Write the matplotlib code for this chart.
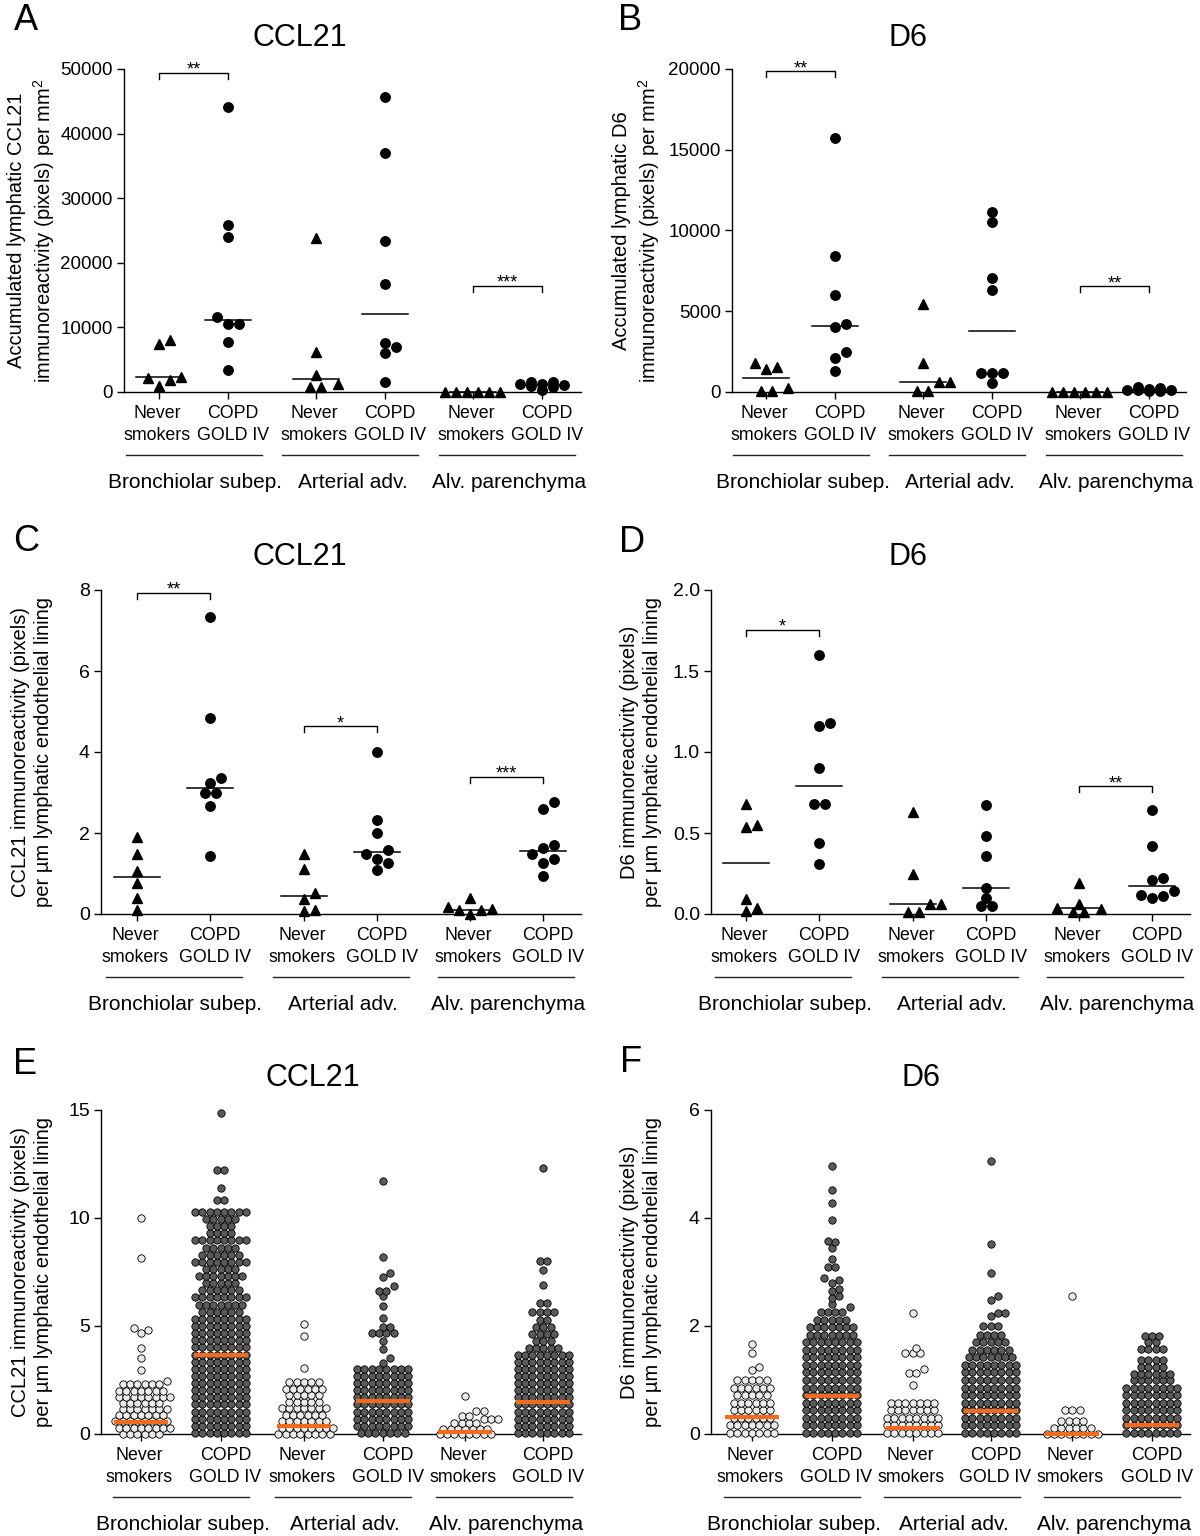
import numpy as np
import matplotlib
matplotlib.use('Agg')
import matplotlib.pyplot as plt
from matplotlib.transforms import blended_transform_factory, ScaledTranslation

plt.rcParams['font.family'] = ['Liberation Sans', 'DejaVu Sans']
plt.rcParams['mathtext.fontset'] = 'custom'
plt.rcParams['mathtext.rm'] = 'Liberation Sans'
plt.rcParams['mathtext.it'] = 'Liberation Sans:italic'

W, H = 1200, 1536
fig = plt.figure(figsize=(12, 15.36), dpi=100)

# ---------------- data ----------------
tick_labels = [('Never', 'smokers'), ('COPD', 'GOLD IV')] * 3
regions = ['Bronchiolar subep.', 'Arterial adv.', 'Alv. parenchyma']

# Panel A: accumulated CCL21 per mm2
A_bronch_never = [8000, 7500, 2200, 900, 1900, 2300]
A_bronch_copd = [44100, 25900, 24000, 11600, 10600, 10500, 7700, 3400]
A_art_never = [23800, 6200, 2700, 1200, 800, 800]
A_art_copd = [45600, 37000, 23300, 16700, 7600, 6900, 6000, 1600]
A_alv_never = [60, 50, 40, 50, 60, 40]
A_alv_copd = [1600, 1500, 1300, 1200, 1100, 900, 700, 300]

# Panel B: accumulated D6 per mm2
B_bronch_never = [1550, 1440, 1790, 250, 60, 60]
B_bronch_copd = [15750, 8400, 6000, 4200, 4000, 2500, 2100, 1300]
B_art_never = [5450, 1800, 600, 600, 50, 50]
B_art_copd = [11150, 10500, 7050, 6300, 1200, 1200, 1200, 550]
B_alv_never = [20, 20, 20, 20, 20, 20]
B_alv_copd = [300, 250, 200, 150, 120, 100, 80, 60]

# Panel C: CCL21 per um lining (patients)
C_bronch_never = [1.91, 1.47, 1.05, 0.76, 0.39, 0.10]
C_bronch_copd = [7.33, 4.83, 3.36, 3.24, 3.0, 3.0, 2.67, 1.42]
C_art_never = [1.47, 1.11, 0.53, 0.36, 0.10, 0.08]
C_art_copd = [4.0, 2.32, 1.99, 1.58, 1.48, 1.37, 1.25, 1.09]
C_alv_never = [0.40, 0.17, 0.12, 0.10, 0.09, 0.0]
C_alv_copd = [2.77, 2.6, 1.70, 1.62, 1.47, 1.37, 1.25, 0.95]

# Panel D: D6 per um lining (patients)
D_bronch_never = [0.68, 0.55, 0.54, 0.09, 0.02, 0.04]
D_bronch_copd = [1.6, 1.18, 1.16, 0.9, 0.68, 0.68, 0.44, 0.31]
D_art_never = [0.63, 0.25, 0.06, 0.06, 0.01, 0.01]
D_art_copd = [0.67, 0.48, 0.36, 0.16, 0.10, 0.05, 0.05]
D_alv_never = [0.19, 0.06, 0.04, 0.03, 0.01, 0.01]
D_alv_copd = [0.64, 0.42, 0.22, 0.21, 0.14, 0.12, 0.11, 0.10]

# Panel E: CCL21 per um lining (individual vessels): row levels and point counts per row
E_bronch_never_lv = [0.02, 0.3, 0.6, 0.9, 1.15, 1.45, 1.7, 2.0, 2.3, 2.47, 2.98, 3.5, 4.0, 4.68, 4.8, 4.9, 8.13, 10.0]
E_bronch_never_ct = [6, 8, 8, 7, 7, 6, 8, 7, 6, 1, 1, 1, 1, 1, 1, 1, 1, 1]
E_bronch_copd_lv = [0.05, 0.38, 0.71, 1.04, 1.37, 1.70, 2.03, 2.36, 2.69, 3.02, 3.35, 3.68, 4.01, 4.34, 4.67, 5.00,
                    5.33, 5.66, 5.99, 6.32, 6.65, 6.98, 7.31, 7.64, 7.97, 8.30, 8.63, 8.96, 9.29, 9.62, 9.95, 10.3,
                    10.85, 11.39, 12.22, 14.86]
E_bronch_copd_ct = [8, 8, 8, 8, 8, 8, 8, 8, 8, 8, 8, 8, 8, 8, 8, 8,
                    8, 6, 7, 8, 6, 5, 7, 5, 8, 6, 5, 8, 4, 4, 5, 8,
                    2, 1, 2, 1]
E_art_never_lv = [0.02, 0.3, 0.6, 0.9, 1.2, 1.5, 1.8, 2.1, 2.4, 3.06, 4.52, 5.09]
E_art_never_ct = [8, 8, 7, 6, 7, 5, 5, 6, 5, 1, 1, 1]
E_art_copd_lv = [0.05, 0.38, 0.71, 1.04, 1.37, 1.70, 2.03, 2.36, 2.69, 3.02, 3.3, 3.5, 3.94, 4.29, 4.68, 4.94,
                 5.35, 5.94, 6.4, 6.64, 6.87, 7.25, 7.44, 8.21, 11.73]
E_art_copd_ct = [7, 8, 8, 8, 8, 8, 8, 8, 8, 8, 1, 1, 1, 1, 4, 2,
                 1, 1, 1, 2, 1, 1, 1, 1, 1]
E_alv_never_lv = [0.02, 0.25, 0.5, 0.7, 0.85, 1.05, 1.77]
E_alv_never_ct = [8, 7, 4, 3, 2, 2, 1]
E_alv_copd_lv = [0.05, 0.38, 0.71, 1.04, 1.37, 1.70, 2.03, 2.36, 2.69, 3.02, 3.35, 3.68, 4.0, 4.3, 4.63, 4.95,
                 5.3, 5.63, 6.05, 6.9, 7.6, 7.99, 12.3]
E_alv_copd_ct = [8, 8, 8, 8, 8, 8, 8, 8, 8, 8, 8, 8, 5, 3, 4, 3,
                 2, 4, 2, 1, 1, 2, 1]
E_medians = [0.54, 3.65, 0.39, 1.54, 0.11, 1.47]

# Panel F: D6 per um lining (individual vessels)
F_bronch_never_lv = [0.02, 0.16, 0.3, 0.44, 0.58, 0.72, 0.86, 1.0, 1.19, 1.24, 1.5, 1.67]
F_bronch_never_ct = [7, 7, 6, 6, 6, 5, 6, 5, 1, 1, 1, 1]
F_bronch_copd_lv = [0.02, 0.16, 0.30, 0.44, 0.58, 0.72, 0.86, 1.00, 1.14, 1.28, 1.42, 1.56, 1.70, 1.84, 1.98, 2.12,
                    2.26, 2.35, 2.4, 2.52, 2.55, 2.65, 2.68, 2.8, 2.85, 2.88, 3.1, 3.25, 3.45, 3.55, 3.58, 3.97,
                    4.27, 4.52, 4.97]
F_bronch_copd_ct = [8, 8, 8, 8, 8, 8, 8, 8, 8, 8, 8, 8, 8, 7, 7, 5,
                    4, 1, 1, 1, 1, 1, 1, 1, 1, 1, 2, 1, 1, 1, 1, 1,
                    1, 1, 1]
F_art_never_lv = [0.02, 0.16, 0.30, 0.44, 0.58, 0.9, 1.13, 1.2, 1.5, 1.6, 2.25]
F_art_never_ct = [8, 8, 8, 7, 7, 1, 2, 1, 3, 1, 1]
F_art_copd_lv = [0.02, 0.16, 0.30, 0.44, 0.58, 0.72, 0.86, 1.00, 1.14, 1.28, 1.42, 1.56, 1.70, 1.84, 2.0, 2.18,
                 2.25, 2.48, 2.56, 2.98, 3.52, 5.06]
F_art_copd_ct = [8, 8, 8, 8, 8, 8, 8, 8, 8, 8, 7, 6, 5, 4, 3, 1,
                 2, 1, 1, 1, 1, 1]
F_alv_never_lv = [0.0, 0.12, 0.25, 0.44, 2.55]
F_alv_never_ct = [8, 6, 4, 3, 1]
F_alv_copd_lv = [0.02, 0.16, 0.30, 0.44, 0.58, 0.72, 0.86, 1.0, 1.12, 1.25, 1.37, 1.57, 1.7, 1.81]
F_alv_copd_ct = [8, 8, 8, 8, 8, 8, 8, 6, 6, 4, 4, 4, 2, 3]
F_medians = [0.31, 0.70, 0.12, 0.42, 0.0, 0.17]

# ---------------- helpers ----------------
ORANGE = '#f26a1e'


def make_ax(left, right, top, bottom):
    return fig.add_axes([left / W, 1 - bottom / H, (right - left) / W, (bottom - top) / H])


def px_offset(dx_px, dy_px):
    return ScaledTranslation(dx_px / 100.0, dy_px / 100.0, fig.dpi_scale_trans)


def swarm(ax, xc, vals, diam, rowgap, step, maxk, tol):
    """Place values as centred rows (equal values) shifted sideways to avoid overlaps."""
    vals = np.asarray(vals, float)
    sx = ax.transData.transform([[1, 0]])[0, 0] - ax.transData.transform([[0, 0]])[0, 0]
    levels, counts = np.unique(vals, return_counts=True)
    cands = [0.0]
    for k in range(1, maxk + 1):
        cands += [k * step, -k * step]
    ppx, ppy = np.zeros(0), np.zeros(0)
    out_x, out_y = [], []
    for lv, n in zip(levels, counts):
        py = ax.transData.transform([[xc, lv]])[0, 1]
        base = (np.arange(n) - (n - 1) / 2.0) * rowgap
        near = np.abs(ppy - py) < diam
        qx, qy = ppx[near], ppy[near]
        best, bestc, bestd = None, 0.0, -1.0
        for c in cands:
            xs = base + c
            if len(qx) == 0:
                dmin = np.inf
            else:
                dmin = np.min(np.hypot(xs[:, None] - qx[None, :], py - qy[None, :]))
            if dmin >= diam * tol:
                best = c
                break
            if dmin > bestd + 1e-9:
                bestd, bestc = dmin, c
        if best is None:
            best = bestc
        xs = base + best
        ppx = np.concatenate([ppx, xs])
        ppy = np.concatenate([ppy, np.full(n, py)])
        out_x += list(xc + xs / sx)
        out_y += [lv] * n
    return np.array(out_x), np.array(out_y)


def setup_axis(ax, L, R, T0, S, pos, ymax, yticks, yfmt, yfs, title, tx, ty, letter, lx, ly,
               ylabel, ylx):
    ax.set_xlim((L - T0) / S, (R - T0) / S)
    ax.set_ylim(0, ymax)
    for s in ['top', 'right']:
        ax.spines[s].set_visible(False)
    for s in ['left', 'bottom']:
        ax.spines[s].set_linewidth(1.0)
    ax.set_xticks(pos)
    ax.set_xticklabels([''] * len(pos))
    ax.set_yticks(yticks)
    ax.set_yticklabels([yfmt(v) for v in yticks], fontsize=yfs)
    ax.tick_params(axis='both', length=5, width=1.0, direction='out', pad=3)
    tr = blended_transform_factory(ax.transData, ax.transAxes)
    for i, p in enumerate(pos):
        l1, l2 = tick_labels[i]
        dx = -2 if i % 2 == 0 else 5
        ax.text(p, 0, l1, transform=tr + px_offset(dx, -26), fontsize=12.8, ha='center',
                va='baseline')
        ax.text(p, 0, l2, transform=tr + px_offset(dx, -48), fontsize=12.8, ha='center',
                va='baseline')
    fig.text(tx / W, 1 - ty / H, title, fontsize=22, ha='center', va='center')
    fig.text(lx / W, 1 - ly / H, letter, fontsize=26, ha='center', va='center')
    bb = ax.get_position()
    yc = 1 - (bb.y0 + bb.height / 2)
    fig.text(ylx / W, 1 - yc, ylabel, fontsize=14.5, rotation=90, ha='center', va='center',
             multialignment='center', linespacing=1.3)
    for g in range(3):
        c = (pos[2 * g] + pos[2 * g + 1]) / 2
        half = 68.0 / S
        ax.plot([c - half, c + half], [0, 0], transform=tr + px_offset(0, -63), color='#222222',
                lw=1.0, clip_on=False)
        ax.text(c, 0, regions[g], transform=tr + px_offset(2, -90), fontsize=15, ha='center',
                va='center')


def bracket(ax, x1, x2, y, stars, ymax, hpx):
    leg = 6.0 * ymax / hpx
    ax.plot([x1, x1, x2, x2], [y - leg, y, y, y - leg], color='black', lw=1.0, clip_on=False)
    ax.text((x1 + x2) / 2, y - 2.0 * ymax / hpx, stars, fontsize=13, ha='center', va='baseline')


def small_panel(ax, groups, pos, S):
    for gi, vals in enumerate(groups):
        xs, ys = swarm(ax, pos[gi], vals, 9.5, 11.0, 11.0, 2, 1.0)
        mk = '^' if gi % 2 == 0 else 'o'
        ms = 7.5 if mk == '^' else 6.8
        ax.plot(xs, ys, ls='none', marker=mk, ms=ms, color='black', clip_on=False, zorder=3)
        med = np.median(vals)
        half = 23.0 / S
        ax.plot([pos[gi] - half, pos[gi] + half], [med, med], color='black', lw=1.1,
                clip_on=False, zorder=4)


def big_panel(ax, groups, medians, pos, S):
    for gi, (lv, ct) in enumerate(groups):
        vals = np.repeat(np.asarray(lv, float), np.asarray(ct, int))
        xs, ys = swarm(ax, pos[gi], vals, 7.3, 7.3, 3.65, 7, 0.85)
        fc = '#ececec' if gi % 2 == 0 else '#5a5a5a'
        ax.plot(xs, ys, ls='none', marker='o', ms=5.3, mfc=fc, mec='black', mew=0.6,
                clip_on=False, zorder=3)
        half = 27.0 / S
        ax.plot([pos[gi] - half, pos[gi] + half], [medians[gi]] * 2, color=ORANGE, lw=3.0,
                solid_capstyle='butt', clip_on=False, zorder=5)


# ---------------- Panel A ----------------
posAB = [0, 1, 2.275, 3.275, 4.55, 5.55]
axA = make_ax(124, 581, 69, 392)
setup_axis(axA, 124, 581, 159, 69, posAB, 50000, [0, 10000, 20000, 30000, 40000, 50000],
           lambda v: '%d' % v, 13.5, 'CCL21', 300, 38, 'A', 26, 21,
           'Accumulated lymphatic CCL21\nimmunoreactivity (pixels) per mm$^2$', 32)
small_panel(axA, [A_bronch_never, A_bronch_copd, A_art_never, A_art_copd, A_alv_never, A_alv_copd],
            posAB, 69)
bracket(axA, posAB[0], posAB[1], 49400, '**', 50000, 323)
bracket(axA, posAB[4], posAB[5], 16460, '***', 50000, 323)

# ---------------- Panel B ----------------
axB = make_ax(732, 1186, 69, 392)
setup_axis(axB, 732, 1186, 766, 69, posAB, 20000, [0, 5000, 10000, 15000, 20000],
           lambda v: '%d' % v, 13.5, 'D6', 908, 38, 'B', 630, 21,
           'Accumulated lymphatic D6\nimmunoreactivity (pixels) per mm$^2$', 637)
small_panel(axB, [B_bronch_never, B_bronch_copd, B_art_never, B_art_copd, B_alv_never, B_alv_copd],
            posAB, 69)
bracket(axB, posAB[0], posAB[1], 19860, '**', 20000, 323)
bracket(axB, posAB[4], posAB[5], 6560, '**', 20000, 323)

# ---------------- Panel C ----------------
posCD = [0, 1, 2.29, 3.29, 4.56, 5.56]
axC = make_ax(101, 581, 590, 914)
setup_axis(axC, 101, 581, 137, 73, posCD, 8, [0, 2, 4, 6, 8], lambda v: '%d' % v, 14,
           'CCL21', 300, 557, 'C', 26, 541,
           'CCL21 immunoreactivity (pixels)\nper µm lymphatic endothelial lining', 32)
small_panel(axC, [C_bronch_never, C_bronch_copd, C_art_never, C_art_copd, C_alv_never, C_alv_copd],
            posCD, 73)
bracket(axC, posCD[0], posCD[1], 7.93, '**', 8, 324)
bracket(axC, posCD[2], posCD[3], 4.63, '*', 8, 324)
bracket(axC, posCD[4], posCD[5], 3.39, '***', 8, 324)

# ---------------- Panel D ----------------
axD = make_ax(711, 1190, 590, 914)
setup_axis(axD, 711, 1190, 746, 73, posCD, 2.0, [0, 0.5, 1.0, 1.5, 2.0], lambda v: '%.1f' % v, 14,
           'D6', 908, 557, 'D', 632, 543,
           'D6 immunoreactivity (pixels)\nper µm lymphatic endothelial lining', 641)
small_panel(axD, [D_bronch_never, D_bronch_copd, D_art_never, D_art_copd, D_alv_never, D_alv_copd],
            posCD, 73)
bracket(axD, posCD[0], posCD[1], 1.756, '*', 2.0, 324)
bracket(axD, posCD[4], posCD[5], 0.79, '**', 2.0, 324)

# ---------------- Panel E ----------------
posE = [0, 1, 2.05, 3.04, 4.08, 5.06]
axE = make_ax(101, 581, 1110, 1434)
setup_axis(axE, 101, 581, 141, 79.5, posE, 15, [0, 5, 10, 15], lambda v: '%d' % v, 14,
           'CCL21', 313, 1078, 'E', 25, 1064,
           'CCL21 immunoreactivity (pixels)\nper µm lymphatic endothelial lining', 32)
big_panel(axE, [(E_bronch_never_lv, E_bronch_never_ct), (E_bronch_copd_lv, E_bronch_copd_ct),
                (E_art_never_lv, E_art_never_ct), (E_art_copd_lv, E_art_copd_ct),
                (E_alv_never_lv, E_alv_never_ct), (E_alv_copd_lv, E_alv_copd_ct)],
          E_medians, posE, 79.5)

# ---------------- Panel F ----------------
posF = [0, 1, 2.02, 3.0, 4.03, 5.03]
axF = make_ax(711, 1190, 1110, 1434)
setup_axis(axF, 711, 1190, 752, 79.5, posF, 6, [0, 2, 4, 6], lambda v: '%d' % v, 14,
           'D6', 921, 1078, 'F', 631, 1063,
           'D6 immunoreactivity (pixels)\nper µm lymphatic endothelial lining', 641)
big_panel(axF, [(F_bronch_never_lv, F_bronch_never_ct), (F_bronch_copd_lv, F_bronch_copd_ct),
                (F_art_never_lv, F_art_never_ct), (F_art_copd_lv, F_art_copd_ct),
                (F_alv_never_lv, F_alv_never_ct), (F_alv_copd_lv, F_alv_copd_ct)],
          F_medians, posF, 79.5)

fig.savefig('out.png', dpi=100)
